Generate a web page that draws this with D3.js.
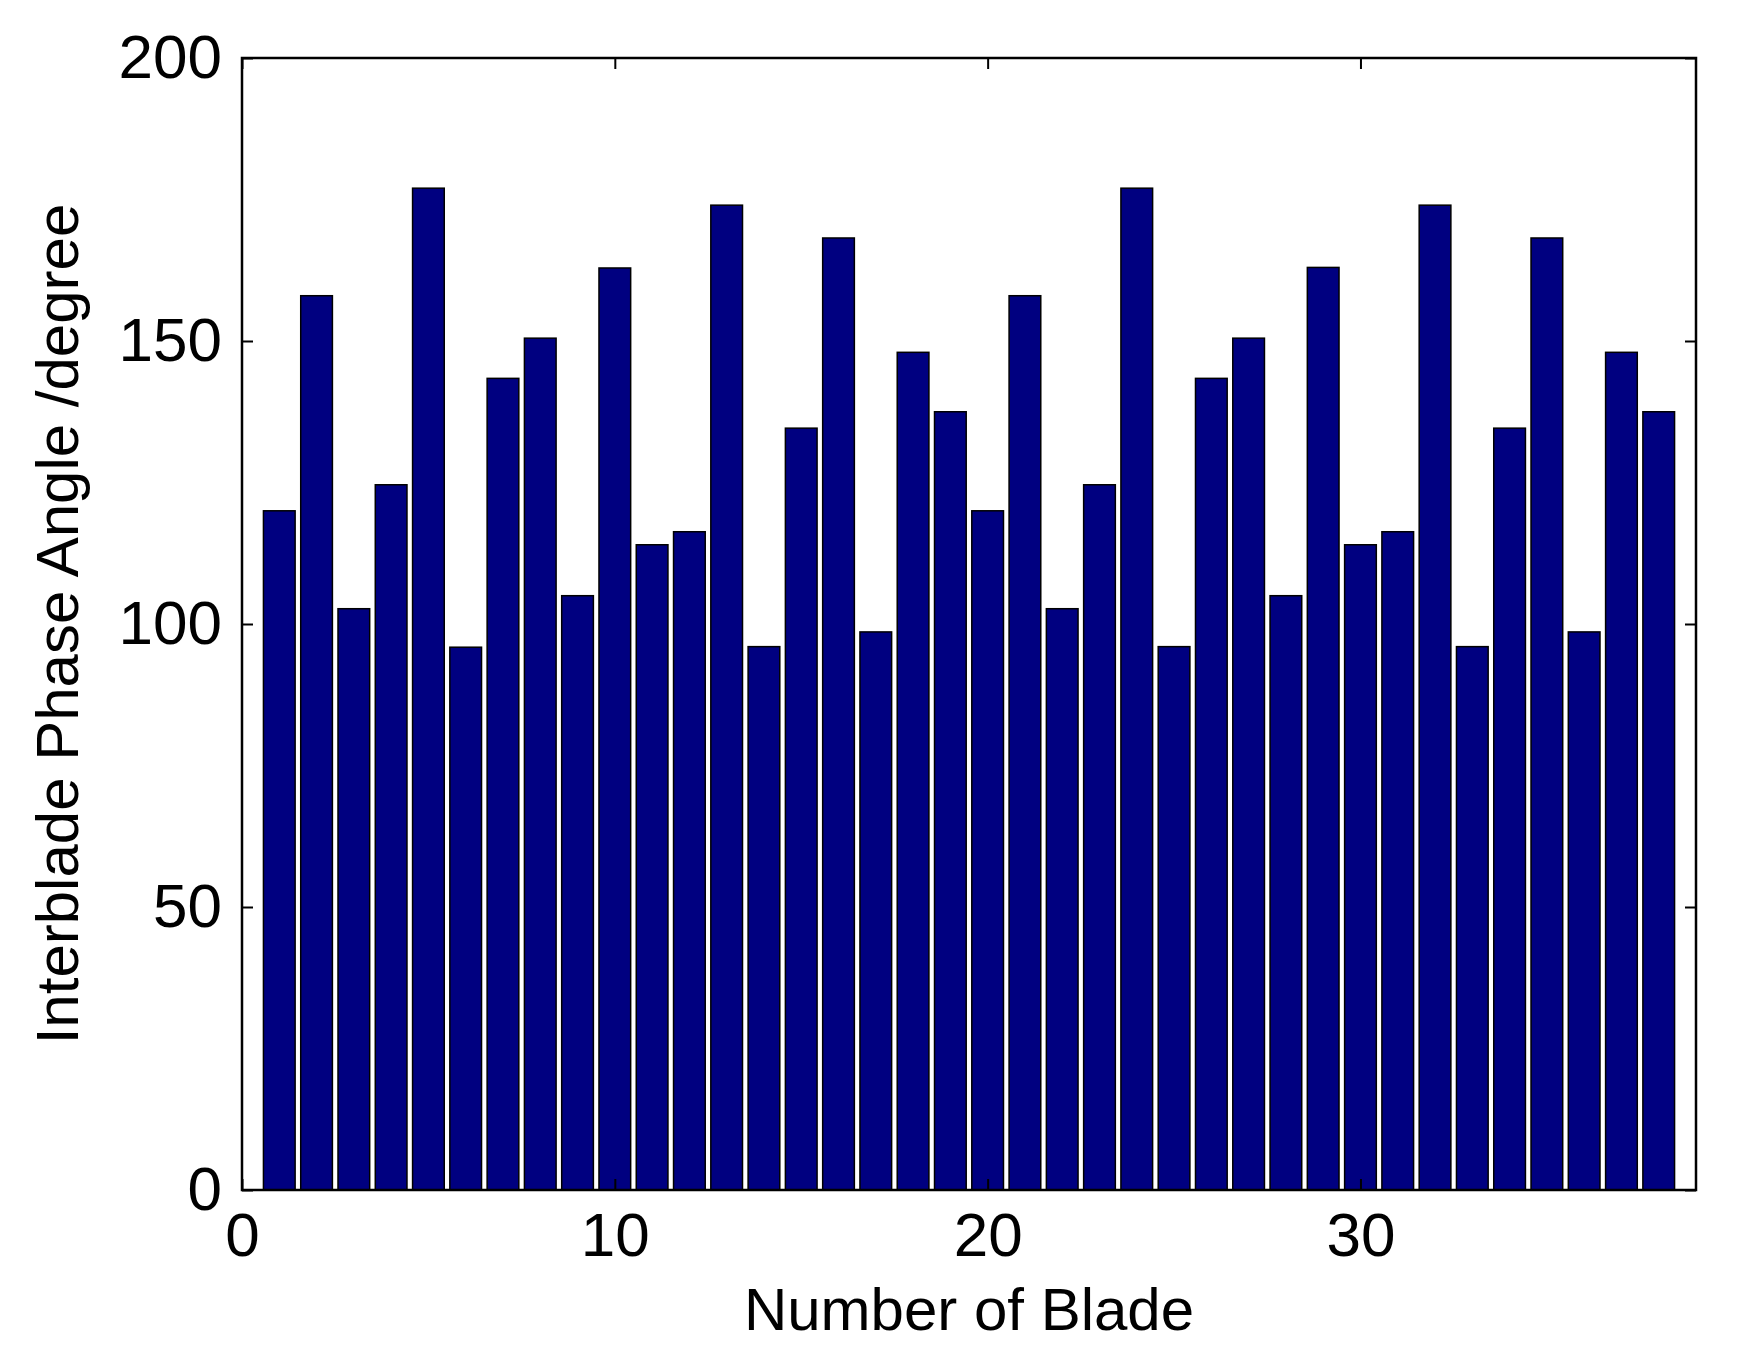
<!DOCTYPE html>
<html><head><meta charset="utf-8">
<script src="https://cdn.jsdelivr.net/npm/d3@7"></script>
<style>body{margin:0;background:#fff}text{font-family:"Liberation Sans",Arial,sans-serif}</style>
</head><body><svg id="c" width="1744" height="1368"></svg>
<script>
const blades = d3.range(1, 39);
const phaseAngles = [120,158,102.7,124.6,177,95.9,143.4,150.5,105,162.9,114,116.3,174,96,134.6,168.2,98.6,148,137.5,
  120,158,102.7,124.6,177,96,143.4,150.5,105,163,114,116.3,174,96,134.6,168.2,98.6,148,137.5];
const xTicks = [0,10,20,30];
const yTicks = [0,50,100,150,200];

const svg = d3.select("#c");
const L=242,R=1696,T=58,B=1190;
const x = d3.scaleLinear().domain([0,39]).range([L,R]);
const y = d3.scaleLinear().domain([0,200]).range([B,T]);
const bw = (x(1)-x(0))*0.85;

svg.append("g").selectAll("rect").data(blades).join("rect")
  .attr("x",d=>x(d)-bw/2).attr("width",bw)
  .attr("y",(d,i)=>y(phaseAngles[i])).attr("height",(d,i)=>B-y(phaseAngles[i]))
  .attr("fill","#000080").attr("stroke","#000").attr("stroke-width",1.5);

const fs = 62, tl = 11;
function style(g){g.select(".domain").remove();g.selectAll("line").attr("stroke","#000").attr("stroke-width",2);
  g.selectAll("text").attr("font-size",fs).attr("fill","#000");}
svg.append("g").attr("transform",`translate(0,${B})`).call(d3.axisBottom(x).tickValues(xTicks).tickSize(-tl).tickPadding(22)).call(style);
svg.append("g").attr("transform",`translate(0,${T})`).call(d3.axisTop(x).tickValues(xTicks).tickSize(-tl).tickFormat("")).call(style);
svg.append("g").attr("transform",`translate(${L},0)`).call(d3.axisLeft(y).tickValues(yTicks).tickSize(-tl).tickPadding(20)).call(style);
svg.append("g").attr("transform",`translate(${R},0)`).call(d3.axisRight(y).tickValues(yTicks).tickSize(-tl).tickFormat("")).call(style);

svg.append("rect").attr("x",L).attr("y",T).attr("width",R-L).attr("height",B-T)
  .attr("fill","none").attr("stroke","#000").attr("stroke-width",2.5);

svg.append("text").attr("x",(L+R)/2).attr("y",1330).attr("text-anchor","middle").attr("font-size",60).text("Number of Blade");
svg.append("text").attr("transform",`translate(78,${(T+B)/2}) rotate(-90)`).attr("text-anchor","middle").attr("font-size",60).text("Interblade Phase Angle /degree");
</script></body></html>
